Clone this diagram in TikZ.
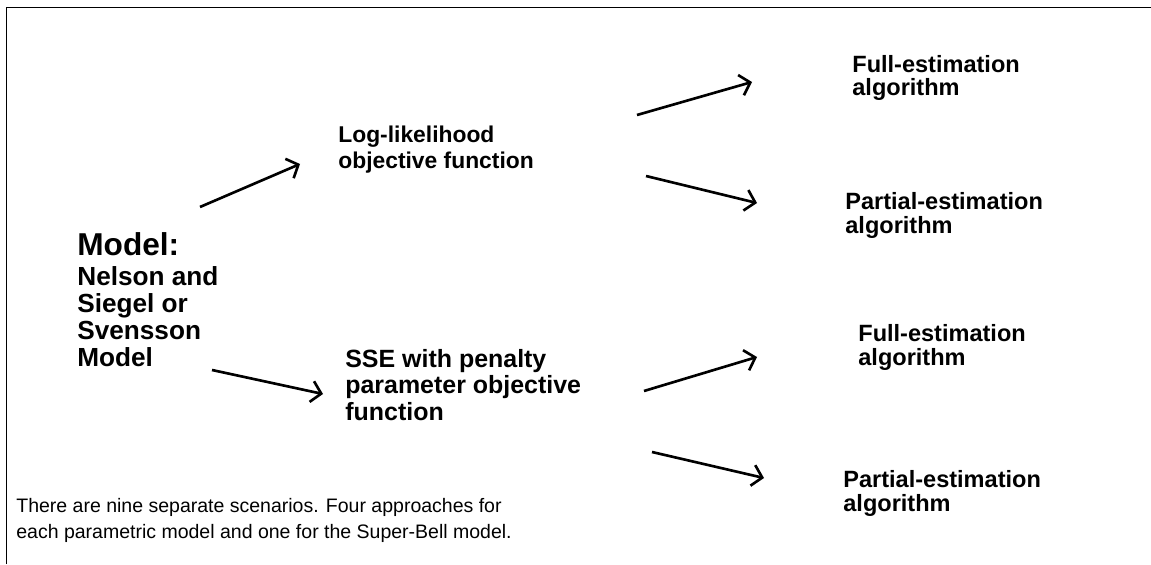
\documentclass[tikz,border=0pt]{standalone}
\usepackage{fontspec}
\setmainfont{Liberation Sans}
\usetikzlibrary{arrows.meta,positioning}

\begin{document}
\begin{tikzpicture}[x=0.02cm,y=-0.02cm,
    main node/.style={anchor=base west,inner sep=0pt,align=left,font=\bfseries\fontsize{14.2}{15}\selectfont},
    model node/.style={anchor=base west,inner sep=0pt,align=left,font=\bfseries\fontsize{14.9}{15.2}\selectfont},
    algo node/.style={anchor=base west,inner sep=0pt,align=left,font=\bfseries\fontsize{13.4}{13.4}\selectfont},
    note node/.style={anchor=base west,inner sep=0pt,align=left,font=\fontsize{11.1}{14.8}\selectfont},
    flow/.style={line width=1.5pt,-{Straight Barb[length=5.5pt,width=12pt]}}]
    \useasboundingbox (0,0) rectangle (1151,564);
    \draw[line width=1.1pt] (6.5,564) -- (6.5,7.5) -- (1151,7.5);

    % multi-line nodes sit on the baseline of their last line
    \node[anchor=base west,inner sep=0pt,font=\bfseries\fontsize{18}{20}\selectfont] (title) at (77,255) {Model:};
    \node[model node] (model) at (77,366) {Nelson and\\Siegel or\\Svensson\\Model};
    \node[main node,font=\bfseries\fontsize{13}{14.8}\selectfont] (loglik) at (338,169) {Log-likelihood\\objective function};
    \node[main node] (sse) at (345,420) {SSE with penalty\\parameter objective\\function};
    \node[algo node] (full1) at (852,96) {Full-estimation\\algorithm};
    \node[algo node] (part1) at (845,233) {Partial-estimation\\algorithm};
    \node[algo node] (full2) at (858,365) {Full-estimation\\algorithm};
    \node[algo node] (part2) at (843,511) {Partial-estimation\\algorithm};
    \node[note node] (note) at (16,538) {There are nine separate scenarios. Four approaches for\\each parametric model and one for the Super-Bell model.};

    % arrow ends
    \coordinate (m1) at (200,207);  \coordinate (l1) at (300,164);
    \coordinate (m2) at (212,370);  \coordinate (s1) at (323,394);
    \coordinate (l2) at (637,115);  \coordinate (f1) at (752,82);
    \coordinate (l3) at (646,176);  \coordinate (p1) at (757,203);
    \coordinate (s2) at (644,391);  \coordinate (f2) at (757,357);
    \coordinate (s3) at (652,452);  \coordinate (p2) at (764,478);

    \path[flow]
    (m1) edge (l1)
    (m2) edge (s1)
    (l2) edge (f1)
    (l3) edge (p1)
    (s2) edge (f2)
    (s3) edge (p2)
    ;
\end{tikzpicture}
\end{document}
